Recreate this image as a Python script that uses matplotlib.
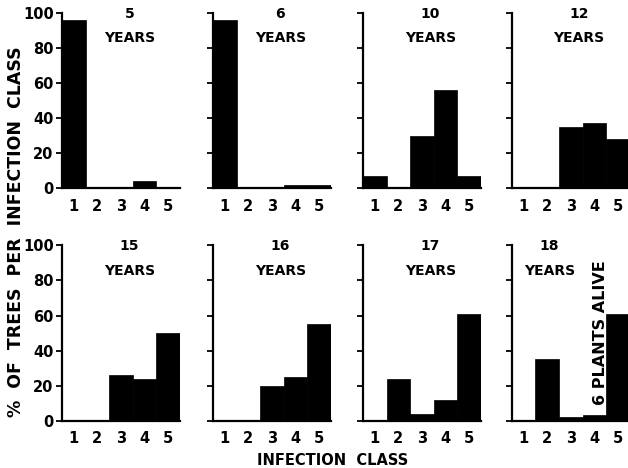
import matplotlib
import matplotlib.pyplot as plt
matplotlib.use('Agg')

classes = [1, 2, 3, 4, 5]
ages = ["5", "6", "10", "12", "15", "16", "17", "18"]
pct_5 = [96, 0, 0, 4, 0]
pct_6 = [96, 0, 0, 2, 2]
pct_10 = [7, 0, 30, 56, 7]
pct_12 = [0, 0, 35, 37, 28]
pct_15 = [0, 0, 26, 24, 50]
pct_16 = [0, 0, 20, 25, 55]
pct_17 = [0, 24, 4, 12, 61]
pct_18 = [0, 35, 2, 3, 61]
yticks = [0, 20, 40, 60, 80, 100]

series = [pct_5, pct_6, pct_10, pct_12, pct_15, pct_16, pct_17, pct_18]

plt.rcParams['font.family'] = ['DejaVu Sans']
fig = plt.figure(figsize=(6.28, 4.68), dpi=100)
fig.patch.set_facecolor('white')

lefts = [0.0987, 0.339, 0.578, 0.815]
bottoms = [0.5976, 0.1011]
w, h = 0.188, 0.3745

for i, (age, vals) in enumerate(zip(ages, series)):
    row, col = divmod(i, 4)
    ax = fig.add_axes([lefts[col], bottoms[row], w, h])
    ax.bar(classes, vals, width=1.0, color='black', edgecolor='black', linewidth=0.5)
    ax.set_xlim(0.5, 5.5)
    ax.set_ylim(0, 100)
    ax.set_xticks(classes)
    ax.set_xticklabels([str(c) for c in classes], fontsize=10.5, fontweight='bold')
    ax.tick_params(axis='x', length=0, pad=7.5)
    ax.set_yticks(yticks)
    ax.tick_params(axis='y', direction='out', length=4, width=1.3, pad=2)
    if col == 0:
        ax.set_yticklabels([str(t) for t in yticks], fontsize=10.5, fontweight='bold')
    else:
        ax.set_yticklabels([])
    for s in ['top', 'right']:
        ax.spines[s].set_visible(False)
    ax.spines['left'].set_linewidth(1.6)
    ax.spines['bottom'].set_linewidth(1.6)
    ax.patch.set_alpha(0)

    tx = 0.32 if age == "18" else 0.57
    ax.text(tx, 0.995, age, transform=ax.transAxes, ha='center', va='center',
            fontsize=10, fontweight='bold', clip_on=False)
    ax.text(tx, 0.855, "YEARS", transform=ax.transAxes, ha='center', va='center',
            fontsize=10, fontweight='bold', clip_on=False)
    if age == "18":
        ax.text(0.755, 0.50, "6 PLANTS ALIVE", transform=ax.transAxes, ha='center',
                va='center', rotation=90, fontsize=11.5, fontweight='bold')

fig.text(0.025, 0.505, "%  OF  TREES  PER  INFECTION  CLASS", rotation=90,
         ha='center', va='center', fontsize=12.5, fontweight='bold')
fig.text(0.529, 0.017, "INFECTION  CLASS", ha='center', va='center',
         fontsize=10.5, fontweight='bold')

plt.savefig("out.png", dpi=100, facecolor='white')
plt.close('all')
